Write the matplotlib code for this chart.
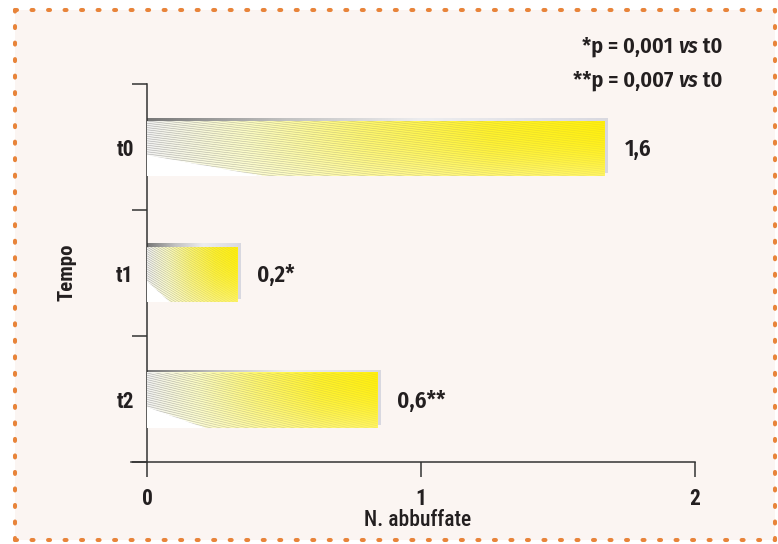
import numpy as np
import matplotlib
matplotlib.use('Agg')
import matplotlib.pyplot as plt
from matplotlib.patches import Rectangle, Polygon
from matplotlib.lines import Line2D
from matplotlib.collections import LineCollection

# data
categories = ['t0', 't1', 't2']
bar_lengths = [1.67, 0.33, 0.84]
value_labels = ['1,6', '0,2*', '0,6**']
x_ticks = [0, 1, 2]
x_tick_labels = ['0', '1', '2']
p_notes = [('*p = 0,001 ', 'vs', ' t0'), ('**p = 0,007 ', 'vs', ' t0')]

W, H = 778, 544
fig = plt.figure(figsize=(W / 100, H / 100), dpi=100)
fig.patch.set_facecolor('white')

narrow = ['Roboto Condensed', 'DejaVu Sans']
humanist = ['Fira Sans Condensed', 'DejaVu Sans']
ink = '#231f20'

# panel background and dotted frame
fx0, fy0, fx1, fy1 = 15 / W, 1 - 540 / H, 775 / W, 1 - 10 / H
fig.add_artist(Rectangle((fx0, fy0), fx1 - fx0, fy1 - fy0, transform=fig.transFigure,
                         facecolor='#fbf5f2', edgecolor='none', zorder=0))
for xs, ys in [((fx0, fx1), (fy1, fy1)), ((fx0, fx1), (fy0, fy0)),
               ((fx0, fx0), (fy0, fy1)), ((fx1, fx1), (fy0, fy1))]:
    fig.add_artist(Line2D(xs, ys, transform=fig.transFigure, color='#e8843a', lw=2.9,
                          ls=(0, (0.5, 3.6)), dash_capstyle='round', zorder=1))

# axes: 274 px per unit on x, 126 px per category on y
ax = fig.add_axes([131 / W, 1 - 462 / H, (695 - 131) / W, 378 / H])
ax.set_facecolor('none')
sx, sy = 1 / 274, 1 / 126
ax.set_xlim(-16 * sx, 2)
ax.set_ylim(2.5, -0.5)
for s in ['top', 'right']:
    ax.spines[s].set_visible(False)
ax.spines['left'].set_position(('data', 0))
for s in ['left', 'bottom']:
    ax.spines[s].set_linewidth(1.1)
    ax.spines[s].set_color('#333333')

ax.set_xticks(x_ticks, x_tick_labels)
ax.tick_params(axis='x', direction='out', length=10.5, width=1.1, color='#333333', pad=8, labelsize=15.5)
ax.set_yticks(range(len(categories)), categories)
ax.set_yticks(np.arange(-0.5, len(categories)), minor=True)
ax.tick_params(axis='y', which='major', length=0, pad=9.5, labelsize=15.5)
ax.tick_params(axis='y', which='minor', length=11, width=1.1, color='#333333')
for lbl in ax.get_xticklabels() + ax.get_yticklabels():
    lbl.set_fontfamily(narrow)
    lbl.set_fontweight('bold')
    lbl.set_color(ink)

# bar fill colours
bar_stops = np.array([0.0, 0.22, 0.48, 0.75, 1.0])
cols = np.array([[0.95, 0.95, 0.95], [0.99, 0.99, 0.76], [1.0, 0.97, 0.42],
                 [1.0, 0.95, 0.16], [1.0, 0.94, 0.06]])
shadow_stops = np.array([0.0, 0.3, 0.6, 1.0])
shadow_cols = np.array([[0.47, 0.47, 0.47], [0.76, 0.76, 0.76], [0.93, 0.93, 0.94], [0.85, 0.85, 0.88]])

def hgrad(stops, colors, nx, ny):
    xf = np.linspace(0, 1, nx)
    rgb = np.stack([np.interp(xf, stops, colors[:, c]) for c in range(3)], axis=-1)
    return np.repeat(rgb[None, :, :], ny, axis=0), xf

h = 55 / 126
for i, (w, lab) in enumerate(zip(bar_lengths, value_labels)):
    top, bot = i - h / 2 + 1.5 * sy, i + h / 2 + 1.5 * sy

    # shadow, 3 px up and right
    st, sb = top - 3 * sy, bot - 3 * sy
    sh = Rectangle((0, st), w + 3 * sx, sb - st, facecolor='none', edgecolor='none')
    ax.add_patch(sh)
    img, _ = hgrad(shadow_stops, shadow_cols, 200, 2)
    ax.imshow(img, extent=(0, w + 3 * sx, sb, st), origin='upper', aspect='auto',
              clip_path=sh, zorder=2, interpolation='bilinear')

    # main bar gradient
    bar = ax.barh(i + 1.5 * sy, w, height=h, color='none', edgecolor='none', zorder=3)[0]
    img, xf = hgrad(bar_stops, cols, 300, 60)
    yf = np.linspace(0, 1, 60)[:, None]
    mix = 0.35 * yf ** 2
    img = img * (1 - mix[..., None]) + mix[..., None]
    tri = yf > 0.62 + 0.38 * (xf[None, :] / 0.25)
    img[tri] = 1.0
    ax.imshow(img, extent=(0, w, bot, top), origin='upper', aspect='auto',
              clip_path=bar, zorder=3, interpolation='bilinear')

    # fine lines parallel to the diagonal
    clip = Polygon([(0, top), (w, top), (w, bot), (0.25 * w, bot), (0, top + 0.62 * h)],
                   closed=True, facecolor='none', edgecolor='none', transform=ax.transData)
    ax.add_patch(clip)
    segs, rgba = [], []
    xs = np.linspace(0, w, 31)
    for c in np.arange(-h, h, 2.2 * sy):
        ys = top + c + xs / w * h
        for k in range(len(xs) - 1):
            segs.append([(xs[k], ys[k]), (xs[k + 1], ys[k + 1])])
            a = 0.5 * (1 - 0.8 * (xs[k] + xs[k + 1]) / (2 * w))
            rgba.append((0.42, 0.42, 0.42, a))
    lc = LineCollection(segs, colors=rgba, linewidths=0.45, zorder=4)
    lc.set_clip_path(clip)
    ax.add_collection(lc)

    ax.text(w + 20 * sx, i + 2 * sy, lab, ha='left', va='center', fontsize=16.5,
            fontweight='semibold', family=humanist, color=ink)

fig.text(67 / W, 1 - 272 / H, 'Tempo', rotation=90, ha='center', va='center',
         fontsize=15, fontweight='bold', family=narrow, color=ink)
fig.text(418 / W, 1 - 520 / H, 'N. abbuffate', ha='center', va='center',
         fontsize=15.5, fontweight='medium', family=narrow, color=ink)

# p-value notes, right aligned, with italic "vs"
for k, (a, b, c) in enumerate(p_notes):
    t3 = fig.text(722 / W, 1 - (53 + 34 * k) / H, c, ha='right', va='baseline',
                  fontsize=16, fontweight='semibold', family=humanist, color=ink)
    t2 = ax.annotate(b, xy=(0, 0), xycoords=t3, ha='right', va='bottom', fontsize=16,
                     fontweight='semibold', fontstyle='italic', family=humanist, color=ink,
                     annotation_clip=False)
    ax.annotate(a, xy=(0, 0), xycoords=t2, ha='right', va='bottom', fontsize=16,
                fontweight='semibold', family=humanist, color=ink, annotation_clip=False)

fig.savefig('out.png', dpi=100, facecolor=fig.get_facecolor())
